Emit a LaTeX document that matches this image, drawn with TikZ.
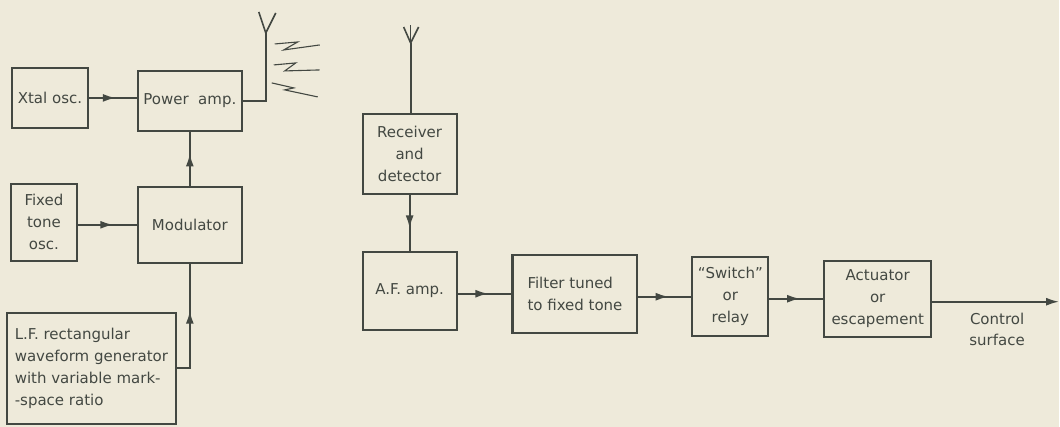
\documentclass[tikz,border=0pt]{standalone}
\usepackage{fontspec}
\setmainfont{DejaVu Sans}
\usetikzlibrary{decorations.markings,arrows.meta}
\definecolor{bg}{HTML}{EEEADA}
\definecolor{ink}{HTML}{434842}
\tikzset{
  blk/.style={draw=ink, line width=2.1pt, text=ink, minimum width=#1, inner sep=2pt,
    font=\fontsize{15}{22}\selectfont},
  conn/.style={draw=ink, line width=1.9pt},
  mid/.style={postaction={decorate},
    decoration={markings, mark=at position #1 with {\arrow[ink]{Latex[length=13pt,width=8pt]}}}},
  lbl/.style={text=ink, font=\fontsize{15}{21}\selectfont, align=center},
  zig/.style={draw=ink, line width=1.1pt},
}
\begin{document}
\begin{tikzpicture}[x=1pt,y=-1pt]
\path[fill=bg] (0,0) rectangle (1060,427);
% transmitter
\node[blk=76pt, minimum height=60pt] (xtal) at (50,98) {Xtal osc.};
\node[blk=104pt, minimum height=60pt] (pamp) at (190,101) {Power\ \ amp.};
\node[blk=66pt, minimum height=77pt, align=center] (fixed) at (44,222.5) {Fixed\\tone\\osc.};
\node[blk=104pt, minimum height=76pt] (mod) at (190,225) {Modulator};
\node[blk=169pt, minimum height=111pt, align=left] (lf) at (91.5,368.5)
  {L.F. rectangular\\waveform generator\\with\ variable mark-\\-space ratio};
\coordinate (tx) at (266,33);
\draw[conn, mid=0.56] (xtal.east) -- (xtal.east -| pamp.west);
\draw[conn, mid=0.6] (fixed.east |- mod.west) -- (mod.west);
\draw[conn, mid=0.6] (mod.north) -- (pamp.south);
\draw[conn, mid=0.6] (lf.east) -| (mod.south);
\draw[conn] (pamp.east) -| (tx);
\draw[conn, line width=1.6pt] (259,12) -- (tx) -- (276,13);
\draw[zig] (275,44) -- (298,42) -- (284,50) -- (320,45);
\draw[zig] (274,65) -- (296,63) -- (285,71) -- (320,70);
\draw[zig] (272,83) -- (294,88) -- (285,90) -- (318,97);
% receiver
\node[blk=94pt, minimum height=80pt, align=center] (rec) at (410,154) {Receiver\\and\\detector};
\node[blk=94pt, minimum height=78pt] (af) at (410,291) {A.F. amp.};
\node[blk=125pt, minimum height=78pt, align=left] (filt) at (575.5,294) {Filter tuned\\to fixed tone};
\node[blk=76pt, minimum height=79pt, align=center] (sw) at (731,297) {“Switch”\\or\\relay};
\node[blk=107pt, minimum height=76pt, align=center] (act) at (878.5,299) {Actuator\\or\\escapement};
\coordinate (rx) at (411,43);
\coordinate (out) at (1060,302);
\node[lbl] (cs) at (998,330) {Control\\surface};
\draw[conn] (rx) -- (rx |- rec.north);
\draw[conn, line width=1.6pt] (404,27) -- (rx) -- (419,27);
\draw[conn, line width=1.6pt] (rx) -- (411,25);
\draw[conn, mid=0.6] (rec.south) -- (af.north);
\draw[conn, mid=0.57] (af.east |- filt.west) -- (filt.west);
\draw[conn, mid=0.57] (filt.east |- sw.west) -- (sw.west);
\draw[conn, mid=0.57] (sw.east |- act.west) -- (act.west);
\draw[conn, -{Latex[length=13pt,width=8pt]}] (act.east |- out) -- (out);
\end{tikzpicture}
\end{document}
